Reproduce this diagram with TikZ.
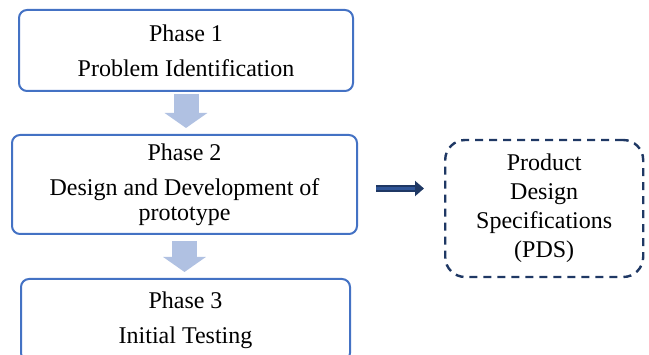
\documentclass[tikz,border=0pt]{standalone}
\usepackage{fontspec}
\setmainfont{Liberation Serif}
\usetikzlibrary{arrows.meta,positioning}
\definecolor{phaseblue}{HTML}{4472C4}
\definecolor{flowfill}{HTML}{B0C1E2}
\definecolor{navy}{HTML}{1F3864}
\definecolor{navymid}{HTML}{2F5597}

\begin{document}
\begin{tikzpicture}[x=1pt,y=-1pt,node distance=42pt,
    phase/.style={draw=phaseblue,line width=2pt,rounded corners=8pt,align=center,
        inner sep=0pt,font=\fontsize{24}{29}\selectfont},
    outcome/.style={draw=navy,line width=2.4pt,dash pattern=on 8pt off 6pt,rounded corners=20pt,
        align=center,minimum width=198pt,minimum height=137pt,font=\fontsize{24}{29}\selectfont},
    flow/.style={flowfill,line width=25pt,-{Triangle[width=42pt,length=15pt]}},
    leadsto/.style={navy,line width=2pt,double=navymid,double distance=2.5pt,
        -{Triangle[width=15pt,length=9pt]}}]

    \useasboundingbox (0,0) rectangle (649,355);

    \node[phase,minimum width=334pt,minimum height=81pt] (p1) at (186,50.5)
        {Phase 1\\[6pt] Problem Identification};
    \node[phase,minimum width=345pt,minimum height=99pt] (p2) [below=42pt of p1,xshift=-1.5pt]
        {Phase 2\\[6pt] Design and Development of\\[-4pt] prototype};
    \node[phase,minimum width=329pt,minimum height=82pt] (p3) [below=43pt of p2,xshift=1pt]
        {Phase 3\\[6pt] Initial Testing};
    \node[outcome] (pds) [right=86pt of p2,yshift=-24pt]
        {Product\\ Design\\ Specifications\\ (PDS)};

    \draw[flow,shorten <=2pt,shorten >=6pt] (p1.south) -- (p1.south |- p2.north);
    \draw[flow,shorten <=6pt,shorten >=6pt] (p2.south) -- (p2.south |- p3.north);
    \draw[leadsto,shorten <=18pt,shorten >=20pt] ([yshift=-4pt]p2.east) -- ([yshift=-4pt]p2.east -| pds.west);

\end{tikzpicture}
\end{document}
